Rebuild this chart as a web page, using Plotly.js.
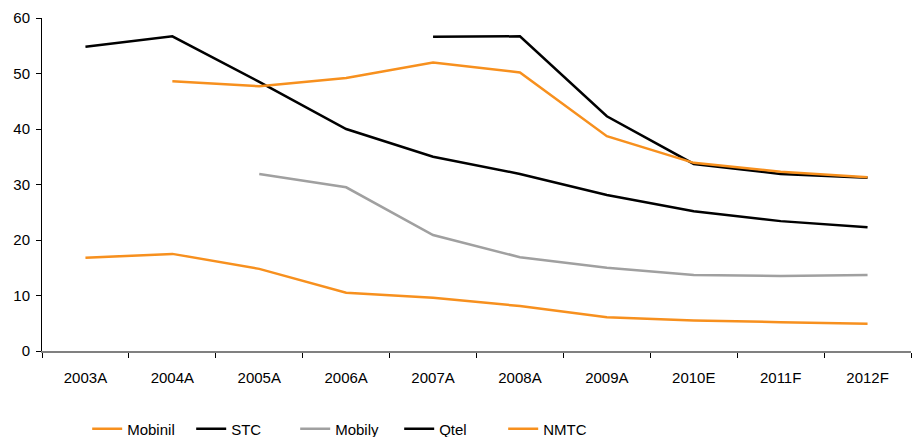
<!DOCTYPE html>
<html>
<head>
<meta charset="utf-8">
<script src="https://cdn.plot.ly/plotly-3.0.1.min.js"></script>
<style>
  html, body { margin: 0; padding: 0; background: #fff; }
  #chart { width: 912px; height: 437px; }
</style>
</head>
<body>
<div id="chart"></div>
<script>
// Periods on the category axis
const years = ["2003A", "2004A", "2005A", "2006A", "2007A", "2008A", "2009A", "2010E", "2011F", "2012F"];

// Series values (null where the operator has no figure)
const mobinil = [16.8, 17.5, 14.8, 10.5, 9.6, 8.1, 6.1, 5.5, 5.2, 4.9];
const stc     = [54.8, 56.7, 48.5, 40.0, 35.0, 31.9, 28.1, 25.2, 23.4, 22.3];
const mobily  = [null, null, 31.9, 29.5, 20.9, 16.9, 15.0, 13.7, 13.5, 13.7];
const qtel    = [null, null, null, null, 56.6, 56.7, 42.3, 33.7, 31.9, 31.2];
const nmtc    = [null, 48.6, 47.7, 49.2, 52.0, 50.2, 38.7, 33.9, 32.3, 31.3];

const yTicks = [0, 10, 20, 30, 40, 50, 60];

const ORANGE = "#F7901E";
const BLACK = "#000000";
const GREY = "#A0A0A0";

function line(name, values, color) {
  return {
    type: "scatter",
    mode: "lines",
    name: name,
    x: years,
    y: values,
    connectgaps: false,
    line: { color: color, width: 2.5 },
    hoverinfo: "skip"
  };
}

const data = [
  line("Mobinil", mobinil, ORANGE),
  line("STC", stc, BLACK),
  line("Mobily", mobily, GREY),
  line("Qtel", qtel, BLACK),
  line("NMTC", nmtc, ORANGE)
];

const layout = {
  width: 912,
  height: 437,
  margin: { l: 42, r: 1, t: 18, b: 86, autoexpand: false },
  paper_bgcolor: "#ffffff",
  plot_bgcolor: "#ffffff",
  font: { family: "Liberation Sans, Arial, sans-serif", size: 15, color: "#000" },
  showlegend: true,
  legend: {
    orientation: "h",
    x: 0.052,
    xanchor: "left",
    y: -0.185,
    yanchor: "top",
    entrywidth: 59,
    entrywidthmode: "pixels",
    font: { size: 15 },
    tracegroupgap: 0
  },
  xaxis: {
    type: "category",
    categoryorder: "array",
    categoryarray: years,
    tickson: "boundaries",
    ticks: "outside",
    ticklen: 5,
    tickcolor: "#000",
    ticklabelstandoff: 12,
    showline: true,
    linecolor: "#808080",
    linewidth: 2,
    showgrid: false,
    zeroline: false,
    tickfont: { size: 15 },
    range: [-0.5, 9.5],
    fixedrange: true
  },
  yaxis: {
    range: [0, 60],
    tickvals: yTicks,
    ticktext: yTicks.map(String),
    ticks: "outside",
    ticklen: 5,
    tickcolor: "#000",
    ticklabelstandoff: 3,
    showline: true,
    linecolor: "#000",
    linewidth: 1,
    showgrid: false,
    zeroline: false,
    tickfont: { size: 15 },
    fixedrange: true
  }
};

Plotly.newPlot("chart", data, layout, { displayModeBar: false, staticPlot: true });
</script>
</body>
</html>
